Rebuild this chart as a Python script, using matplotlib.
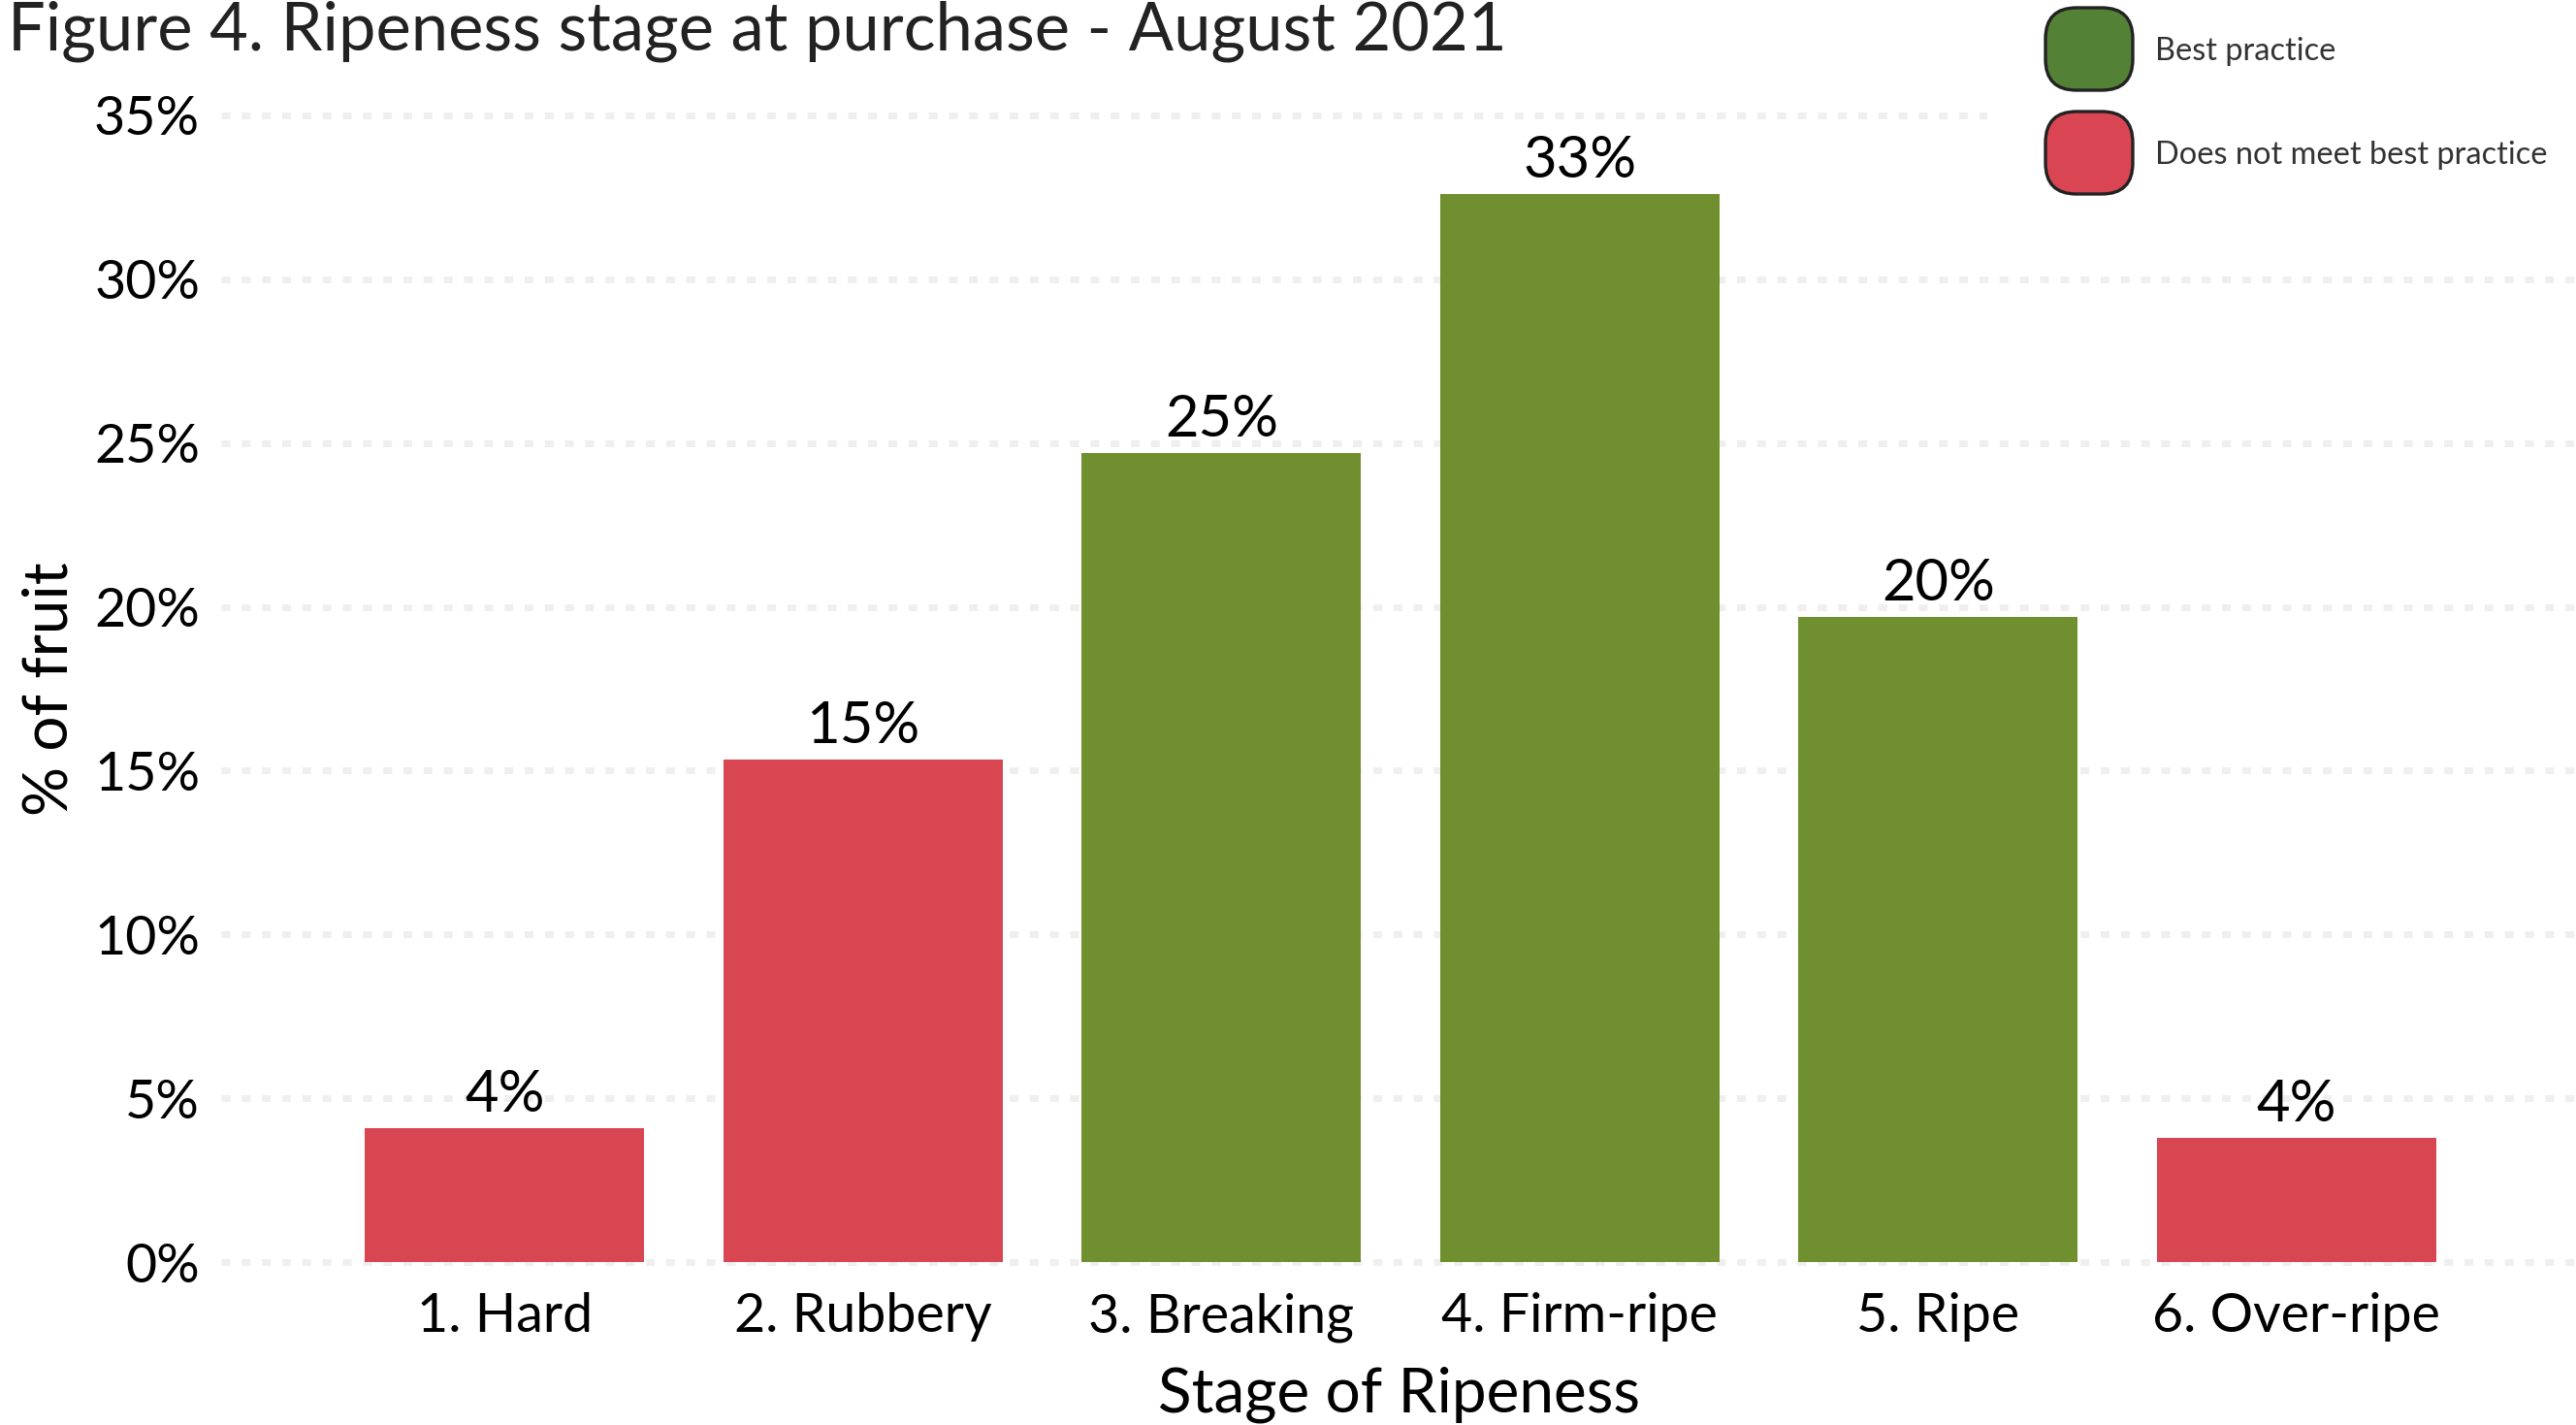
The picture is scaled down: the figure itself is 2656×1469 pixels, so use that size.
import matplotlib
matplotlib.use("Agg")
from matplotlib import pyplot as plt
from matplotlib.patches import FancyBboxPatch, Rectangle

stages = ["1. Hard", "2. Rubbery", "3. Breaking", "4. Firm-ripe", "5. Ripe", "6. Over-ripe"]
percent = [4.1, 15.35, 24.7, 32.6, 19.7, 3.8]
best_practice = [False, False, True, True, True, False]
y_ticks = [0, 5, 10, 15, 20, 25, 30, 35]

green = "#708f2e"
red = "#d84652"
legend_green = "#538135"
legend_red = "#d94553"

plt.rcParams["font.family"] = ["Lato", "DejaVu Sans"]

fig = plt.figure(figsize=[13.28, 7.345], dpi=200)
ax = fig.add_axes([0.086, 0.1027, 0.914, 0.828])

colors = [green if b else red for b in best_practice]
bars = ax.bar(range(len(stages)), percent, width=0.78, color=colors, zorder=2)
ax.bar_label(bars, labels=["{:.0f}%".format(p) for p in percent], padding=2.5, fontsize=21.5)

ax.set_xlim(-0.79, 5.78)
ax.set_ylim(-0.5, 35.5)
ax.set_yticks(y_ticks)
ax.set_yticklabels([str(t) + "%" for t in y_ticks])
ax.set_xticks(range(len(stages)))
ax.set_xticklabels(stages)
ax.tick_params(axis="both", length=0, labelsize=20)
ax.tick_params(axis="y", pad=8)
ax.tick_params(axis="x", pad=5)
for s in ax.spines.values():
    s.set_visible(False)
ax.grid(axis="y", color="#f0efed", linewidth=2.5, linestyle=(0, (1.3, 1.7)), zorder=0)
ax.set_axisbelow(True)

ax.set_xlabel("Stage of Ripeness", fontsize=23, labelpad=9)
ax.set_ylabel("% of fruit", fontsize=23, labelpad=6)

fig.text(0.003, 0.965, "Figure 4. Ripeness stage at purchase - August 2021",
         fontsize=24.7, color="#222222", va="baseline", ha="left")

# legend box
W, H = 2656, 1469
fig.patches.append(Rectangle((2050 / W, 1 - 215 / H), 606 / W, 215 / H,
                             transform=fig.transFigure, color="white", zorder=1))
for i, (col, txt) in enumerate([(legend_green, "Best practice"),
                                (legend_red, "Does not meet best practice")]):
    top = 8 + i * 107
    fig.patches.append(FancyBboxPatch((2109 / W, 1 - (top + 85) / H), 90 / W, 85 / H,
                                      boxstyle="round,pad=0,rounding_size=0.012",
                                      transform=fig.transFigure, facecolor=col,
                                      edgecolor="#222222", linewidth=1.2, zorder=2,
                                      mutation_aspect=W / H))
    fig.text(2222 / W, 1 - (top + 45) / H, txt, fontsize=11.7, color="#333333",
             va="center", ha="left")

fig.savefig("out.png", dpi=200)
